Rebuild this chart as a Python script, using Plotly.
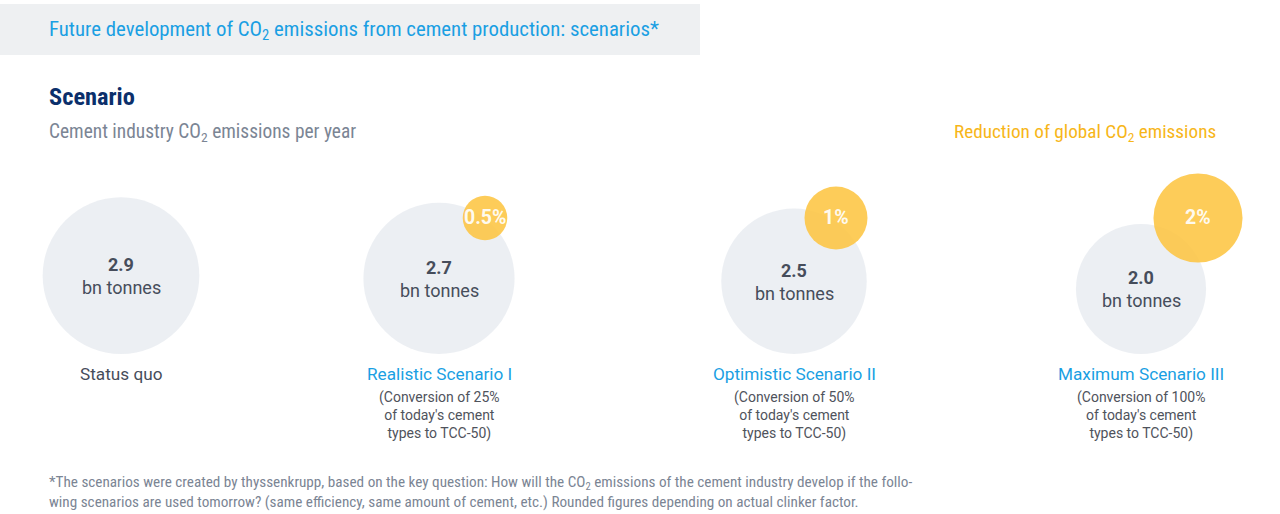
import plotly.graph_objects as go

# ---------------- data ----------------
scenarios = ["Status quo", "Realistic Scenario I", "Optimistic Scenario II", "Maximum Scenario III"]
descriptions = ["", "(Conversion of 25%<br>of today's cement<br>types to TCC-50)",
                "(Conversion of 50%<br>of today's cement<br>types to TCC-50)",
                "(Conversion of 100%<br>of today's cement<br>types to TCC-50)"]
emissions_bn_t = [2.9, 2.7, 2.5, 2.0]
reduction_pct = [None, 0.5, 1, 2]
reduction_labels = ["", "0.5%", "1%", "2%"]

# ---------------- layout (pixel space) ----------------
W, H = 1280, 514
centers_x = [121, 439, 794, 1141]
bottom_y = 354
k_grey = 46.0     # radius = k * sqrt(value)
k_yel = 31.5
yel_dx = [0, 46, 42, 57]
yel_cy = 218

BLUE = "#1a9fe3"
NAVY = "#0b2f6b"
GREY_TXT = "#7b8594"
DARK = "#464d5b"
ORANGE = "#f7b619"
CIRCLE = "#e4e8ee"
YELLOW = "#fdc542"

NARROW = "Liberation Sans Narrow, Roboto Condensed, Arial Narrow, Roboto, sans-serif"
REG = "Roboto, Arial, sans-serif"

fig = go.Figure()

grey_r = [k_grey * v ** 0.5 for v in emissions_bn_t]
grey_cy = [bottom_y - r for r in grey_r]

fig.add_trace(go.Scatter(
    x=centers_x, y=grey_cy, mode="markers",
    marker=dict(size=[2 * r for r in grey_r], sizemode="diameter", color=CIRCLE, line=dict(width=0)),
    hoverinfo="skip", showlegend=False))

yx, yy, ys = [], [], []
for i, p in enumerate(reduction_pct):
    if p is None:
        continue
    yx.append(centers_x[i] + yel_dx[i])
    yy.append(yel_cy)
    ys.append(2 * k_yel * p ** 0.5)

fig.add_trace(go.Scatter(
    x=yx, y=yy, mode="markers",
    marker=dict(size=ys, sizemode="diameter", color=YELLOW, opacity=0.88, line=dict(width=0)),
    hoverinfo="skip", showlegend=False))

ann = []
def text(x, y, s, size, color, family=REG, xanchor="center", bold=False):
    ann.append(dict(x=x, y=y, xref="x", yref="y", text=("<b>%s</b>" % s) if bold else s,
                    showarrow=False, xanchor=xanchor, yanchor="middle",
                    font=dict(family=family, size=size, color=color)))

j = 0
for i, p in enumerate(reduction_pct):
    if p is None:
        continue
    text(yx[j], yy[j] - 1, reduction_labels[i], 19.5, "rgba(255,255,255,0.92)", bold=True)
    j += 1

for i, v in enumerate(emissions_bn_t):
    cy = grey_cy[i]
    text(centers_x[i], cy - 11, "%.1f" % v, 18, DARK, bold=True)
    text(centers_x[i], cy + 12, "bn tonnes", 18, DARK)
    text(centers_x[i], 374, scenarios[i], 17.2, DARK if i == 0 else BLUE)
    if descriptions[i]:
        ann.append(dict(x=centers_x[i], y=415, xref="x", yref="y", text=descriptions[i],
                        showarrow=False, xanchor="center", yanchor="middle", align="center",
                        font=dict(family=REG, size=14, color="#4f535c")))

text(47, 30, "Future development of CO<sub>2</sub> emissions from cement production: scenarios*", 20.8, BLUE, NARROW, "left")
text(47, 96, "Scenario", 24.4, NAVY, NARROW, "left", bold=True)
text(47, 132, "Cement industry CO<sub>2</sub> emissions per year", 19.4, GREY_TXT, NARROW, "left")
text(1218, 132, "Reduction of global CO<sub>2</sub> emissions", 19.2, ORANGE, NARROW, "right")
ann.append(dict(x=47, y=492, xref="x", yref="y",
                text="*The scenarios were created by thyssenkrupp, based on the key question: How will the CO<sub>2</sub> emissions of the cement industry develop if the follo-<br>wing scenarios are used tomorrow? (same efficiency, same amount of cement, etc.) Rounded figures depending on actual clinker factor.",
                showarrow=False, xanchor="left", yanchor="middle", align="left",
                font=dict(family=NARROW, size=15.2, color=GREY_TXT)))

fig.update_layout(
    width=W, height=H, margin=dict(l=0, r=0, t=0, b=0),
    paper_bgcolor="white", plot_bgcolor="white",
    xaxis=dict(range=[0, W], visible=False, fixedrange=True),
    yaxis=dict(range=[H, 0], visible=False, fixedrange=True),
    shapes=[dict(type="rect", xref="x", yref="y", x0=0, x1=700, y0=4, y1=55,
                 fillcolor="#eef0f2", line=dict(width=0), layer="below")],
    annotations=ann,
)

fig.write_html("out.html")
